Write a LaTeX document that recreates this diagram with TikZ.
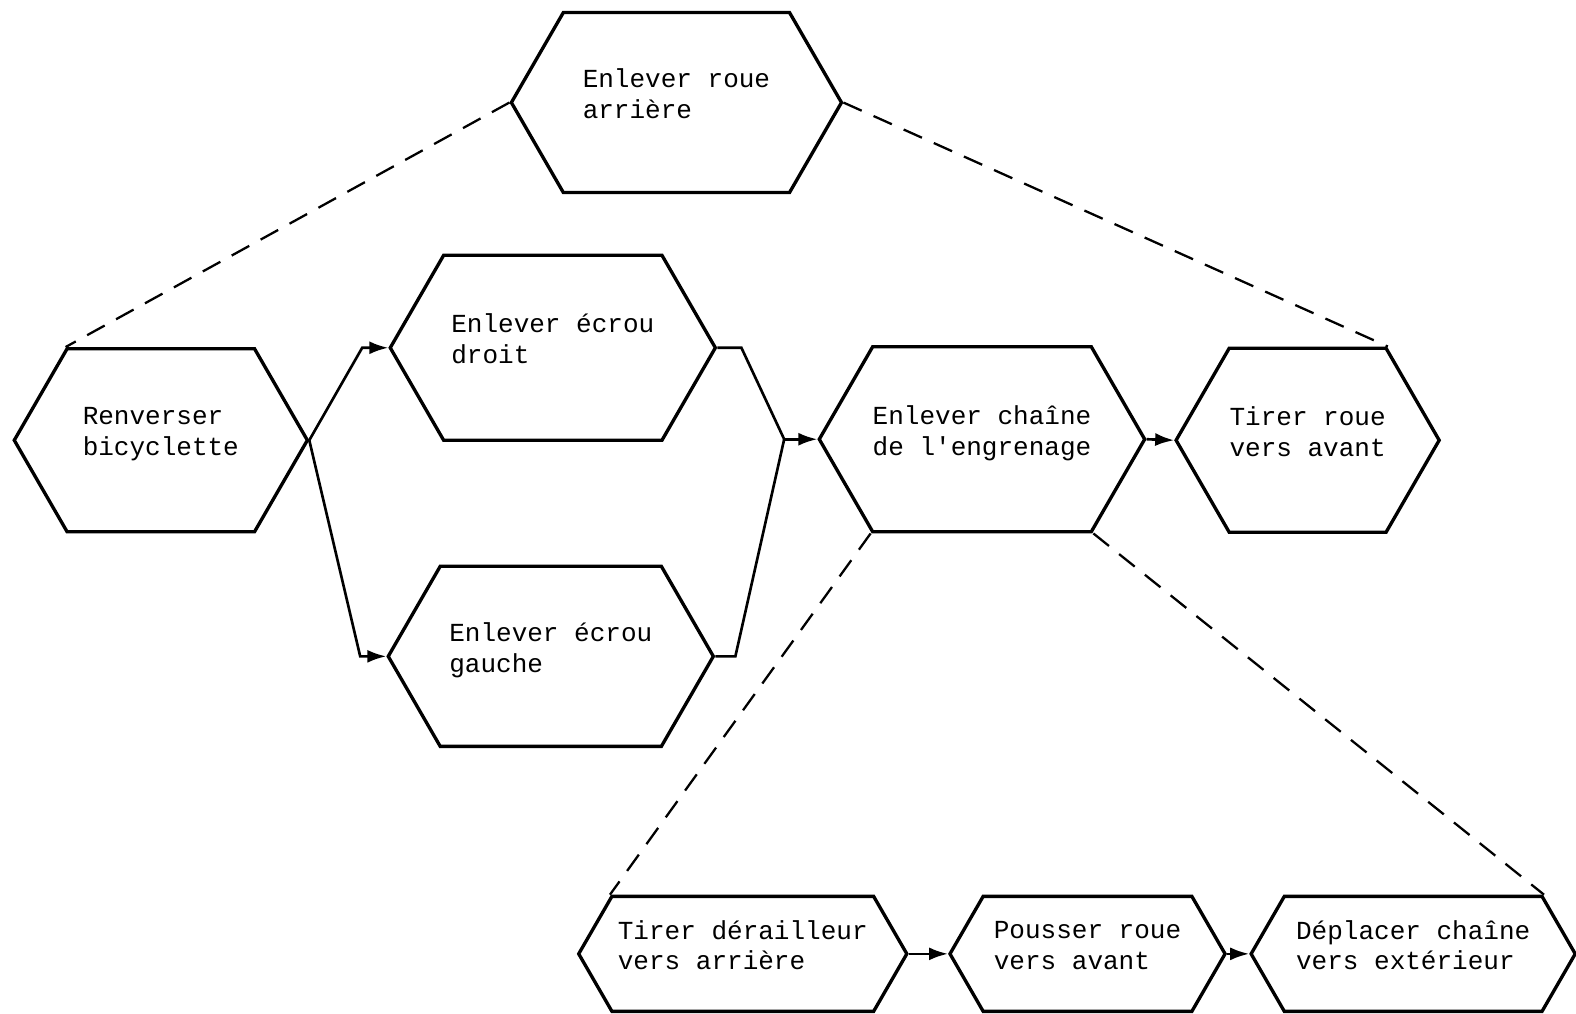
\documentclass[tikz,border=0pt]{standalone}
\usepackage{fontspec}
\setmonofont{Liberation Mono}   % machine à écrire
\usetikzlibrary{shapes.symbols,   % forme signal (hexagones)
                calc,             % coins des hexagones
                arrows.meta,
                positioning}
\tikzset{
  tache/.style 2 args={draw, line width=1.9pt, shape=signal, signal to=west and east,
    signal pointer angle=120, minimum width=#1, minimum height=#2, inner sep=0pt,
    align=left, text depth=10pt, font=\ttfamily\fontsize{14.8}{17.6}\selectfont},
  lien/.style={line width=1.5pt, -{Latex[length=3.8mm,width=2.6mm]}},
  trait/.style={line width=1.5pt},
  decomp/.style={line width=1.3pt, dash pattern=on 4mm off 2.6mm},
}

\begin{document}
\begin{tikzpicture}[x=0.0201cm, y=-0.0201cm]
\useasboundingbox (0,0) rectangle (1568,1008);
\node[tache={6.6cm}{3.6cm}]   (Roue)    at (673,102) {Enlever roue\\arrière};
\node[tache={5.86cm}{3.66cm}] (Renv)    at (160,438) {Renverser\\bicyclette};
\node[tache={6.5cm}{3.7cm}]   (EcrD)    at (550,346) {Enlever écrou\\droit};
\node[tache={6.5cm}{3.6cm}]   (EcrG)    at (548,653) {Enlever écrou\\gauche};
\node[tache={6.5cm}{3.7cm}]   (Chaine)  at (977,437) {Enlever chaîne\\de l'engrenage};
\node[tache={5.26cm}{3.68cm}] (TirRoue) at (1301,438) {Tirer roue\\vers avant};
\node[tache={6.56cm}{2.3cm}]  (TirDer)  at (739,949) {Tirer dérailleur\\vers arrière};
\node[tache={5.5cm}{2.3cm}]   (Pouss)   at (1082,949) {Pousser roue\\vers avant};
\node[tache={6.48cm}{2.3cm}]  (Depl)    at (1406,949) {Déplacer chaîne\\vers extérieur};

\coordinate (Fusion) at ($(Chaine.west)+(-33,0)$);

\draw[lien] (Renv.east) -- ($(EcrD.west)+(-26,0)$) -- (EcrD.west);
\draw[lien] (Renv.east) -- ($(EcrG.west)+(-26,0)$) -- (EcrG.west);
\draw[trait] (EcrD.east) -- ++(24,0) -- (Fusion);
\draw[trait] (EcrG.east) -- ++(20,0) -- (Fusion);
\draw[lien] (Fusion) -- (Chaine.west);
\draw[lien] (Chaine.east) -- (TirRoue.west);
\draw[lien] (TirDer.east) -- (Pouss.west);
\draw[lien] (Pouss.east) -- (Depl.west);

\draw[decomp] (Roue.west) -- ($(Renv.north -| Renv.west)+(53,0)$);
\draw[decomp] (Roue.east) -- ($(TirRoue.north -| TirRoue.east)+(-53,0)$);
\draw[decomp] ($(Chaine.south -| Chaine.west)+(53,0)$) -- ($(TirDer.north -| TirDer.west)+(33,0)$);
\draw[decomp] ($(Chaine.south -| Chaine.east)+(-53,0)$) -- ($(Depl.north -| Depl.east)+(-33,0)$);
\end{tikzpicture}
\end{document}
